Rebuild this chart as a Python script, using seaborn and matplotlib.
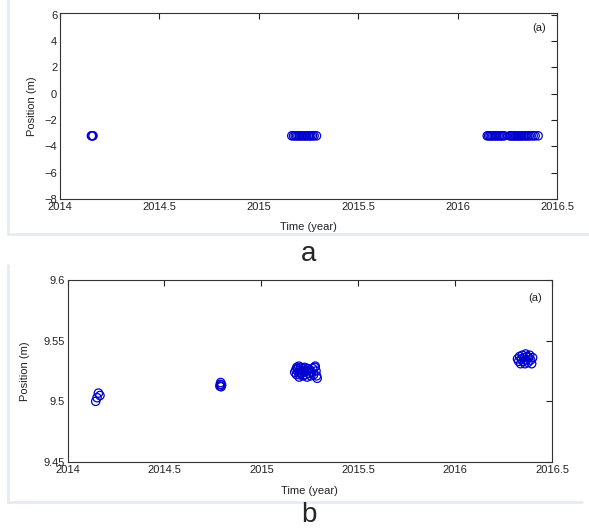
import matplotlib
matplotlib.use("Agg")
import matplotlib.pyplot as plt
import seaborn as sns
import pandas as pd
from matplotlib.lines import Line2D

sns.set_style("white")
plt.rcParams['font.family'] = ['Liberation Sans', 'DejaVu Sans']

# ---- Panel a data ----
time_a = [2014.158, 2014.162, 2014.166,
          2015.166, 2015.175, 2015.183, 2015.190, 2015.197, 2015.205, 2015.212,
          2015.219, 2015.226, 2015.233, 2015.240, 2015.248, 2015.255, 2015.262,
          2015.270, 2015.278, 2015.290,
          2016.149, 2016.156, 2016.163, 2016.170, 2016.177, 2016.184, 2016.190,
          2016.197, 2016.204, 2016.211, 2016.218, 2016.225, 2016.235, 2016.262,
          2016.268, 2016.274, 2016.280, 2016.286, 2016.292, 2016.298, 2016.304,
          2016.310, 2016.316, 2016.322, 2016.330, 2016.338, 2016.345, 2016.353,
          2016.360, 2016.370, 2016.380, 2016.390, 2016.405]
pos_a = [-3.2, -3.2, -3.2,
         -3.2, -3.2, -3.2, -3.2, -3.2, -3.2, -3.2,
         -3.2, -3.2, -3.2, -3.2, -3.2, -3.2, -3.2,
         -3.2, -3.2, -3.2,
         -3.2, -3.2, -3.2, -3.2, -3.2, -3.2, -3.2,
         -3.2, -3.2, -3.2, -3.2, -3.2, -3.2, -3.2,
         -3.2, -3.2, -3.2, -3.2, -3.2, -3.2, -3.2,
         -3.2, -3.2, -3.2, -3.2, -3.2, -3.2, -3.2,
         -3.2, -3.2, -3.2, -3.2, -3.2]

# ---- Panel b data ----
time_b = [2014.145, 2014.152, 2014.159, 2014.167,
          2014.786, 2014.788, 2014.790, 2014.792, 2014.795,
          2015.172, 2015.178, 2015.181, 2015.183, 2015.186, 2015.190, 2015.193,
          2015.195, 2015.197, 2015.200, 2015.204, 2015.207, 2015.210, 2015.214,
          2015.217, 2015.220, 2015.224, 2015.228, 2015.232, 2015.236, 2015.240,
          2015.244, 2015.250, 2015.255, 2015.260, 2015.265, 2015.270, 2015.275,
          2015.278, 2015.282, 2015.285, 2015.288,
          2016.322, 2016.328, 2016.333, 2016.338, 2016.342, 2016.347, 2016.350,
          2016.355, 2016.360, 2016.364, 2016.368, 2016.372, 2016.376, 2016.380,
          2016.385, 2016.390, 2016.395, 2016.400]
pos_b = [9.500, 9.503, 9.5068, 9.5048,
         9.5125, 9.514, 9.5155, 9.512, 9.5135,
         9.524, 9.526, 9.522, 9.528, 9.527, 9.524, 9.529,
         9.520, 9.522, 9.526, 9.528, 9.523, 9.525, 9.521,
         9.527, 9.524, 9.528, 9.522, 9.525, 9.520, 9.527,
         9.523, 9.526, 9.521, 9.524, 9.527, 9.522, 9.528,
         9.529, 9.525, 9.521, 9.519,
         9.535, 9.533, 9.537, 9.531, 9.535, 9.538, 9.533,
         9.536, 9.531, 9.539, 9.534, 9.537, 9.532, 9.536,
         9.538, 9.534, 9.531, 9.536]

xticks = [2014, 2014.5, 2015, 2015.5, 2016, 2016.5]
xticklabels = ["2014", "2014.5", "2015", "2015.5", "2016", "2016.5"]
yticks_a = [-8, -6, -4, -2, 0, 2, 4, 6]
yticks_b = [9.45, 9.5, 9.55, 9.6]
yticklabels_b = ["9.45", "9.5", "9.55", "9.6"]

df_a = pd.DataFrame({"time": time_a, "pos": pos_a})
df_b = pd.DataFrame({"time": time_b, "pos": pos_b})

W, H = 589, 530
fig = plt.figure(figsize=(W / 100, H / 100), dpi=100)
fig.patch.set_facecolor("white")

def axes_px(l, t, r, b):
    return fig.add_axes([l / W, 1 - b / H, (r - l) / W, (b - t) / H])

# faint screenshot frames
for (x0, y0, x1, y1) in [(7.5, 0, 589, 234), (7.5, 265, 582, 502)]:
    fig.add_artist(Line2D([x0 / W, x0 / W], [1 - y0 / H, 1 - y1 / H], color="#e6eaf2", lw=2))
    fig.add_artist(Line2D([x0 / W, x1 / W], [1 - y1 / H, 1 - y1 / H], color="#e6eaf2", lw=2))

ax_a = axes_px(60, 12.7, 557, 199)
ax_b = axes_px(67.6, 280, 552, 462)

fs = 8
for ax, df in [(ax_a, df_a), (ax_b, df_b)]:
    sns.scatterplot(data=df, x="time", y="pos", ax=ax, marker="o",
                    facecolor="none", edgecolor="#0000d0", s=36, linewidth=0.9,
                    legend=False)
    ax.set_xlim(2014, 2016.5)
    ax.set_xticks(xticks)
    ax.set_xticklabels(xticklabels)
    ax.tick_params(direction="in", length=4.5, width=0.8, top=True, right=True,
                   labelsize=fs, colors="#222222", pad=2)
    for sp in ax.spines.values():
        sp.set_visible(True)
        sp.set_color("#333333")
        sp.set_linewidth(0.8)
    ax.set_xlabel("Time (year)", fontsize=fs, color="#222222")
    ax.set_ylabel("Position (m)", fontsize=fs, color="#222222")
    ax.set_facecolor("white")

ax_a.set_ylim(-8, 6.15)
ax_a.set_yticks(yticks_a)
ax_a.text(0.964, 0.916, "(a)", transform=ax_a.transAxes, fontsize=fs,
          ha="center", va="center", color="#222222")
ax_a.yaxis.set_label_coords(-0.046, 0.5)
ax_a.xaxis.set_label_coords(0.5, -0.123)

ax_b.set_ylim(9.45, 9.6)
ax_b.set_yticks(yticks_b)
ax_b.set_yticklabels(yticklabels_b)
ax_b.text(0.965, 0.90, "(a)", transform=ax_b.transAxes, fontsize=fs,
          ha="center", va="center", color="#222222")
ax_b.yaxis.set_label_coords(-0.077, 0.5)
ax_b.xaxis.set_label_coords(0.5, -0.132)

fig.text(309 / W, 1 - 254 / H, "a", fontsize=20, ha="center", va="center")
fig.text(309 / W, 1 - 515 / H, "b", fontsize=20, ha="center", va="center")

fig.savefig("out.png", dpi=100)
